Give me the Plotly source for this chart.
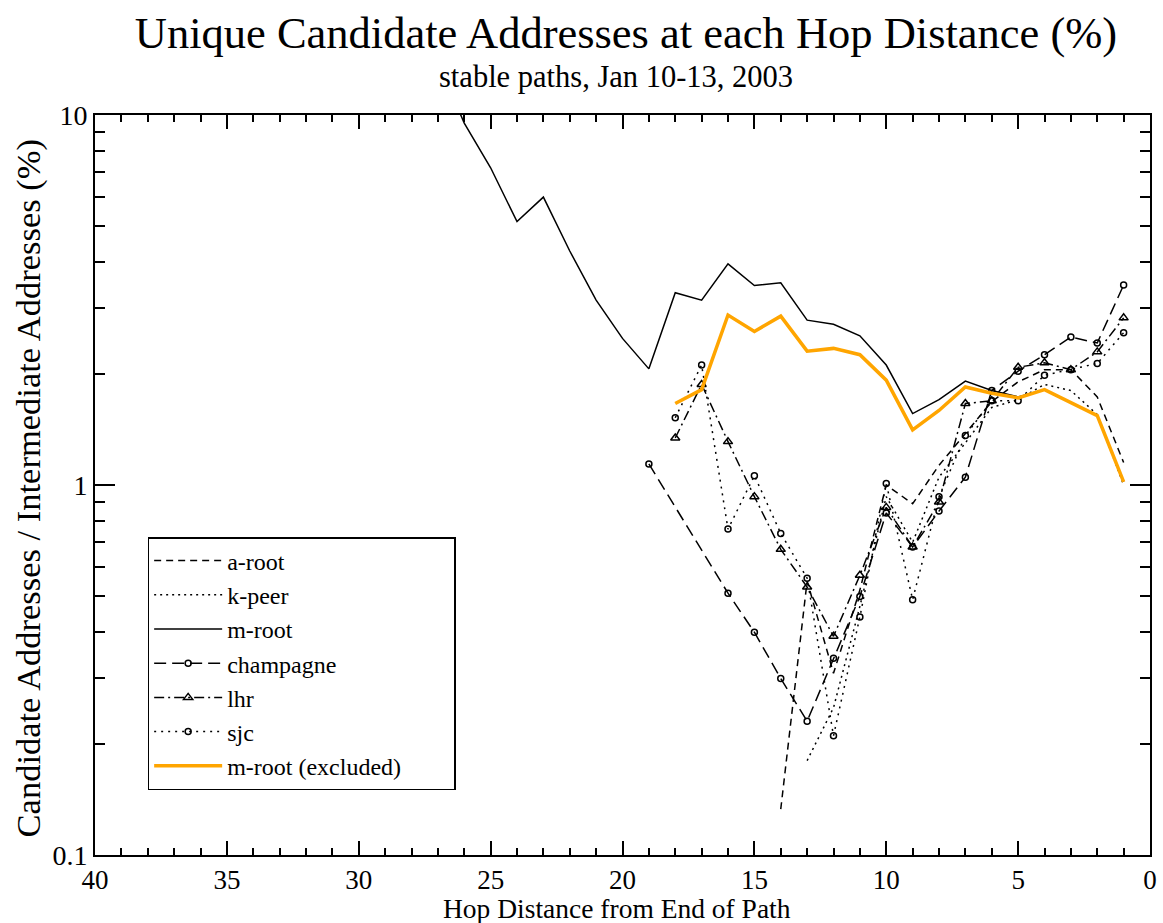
import plotly.graph_objects as go

# ---------------- data ----------------
a_root_hops = [14, 13, 12, 11, 10, 9, 8, 7, 6, 5, 4, 3, 2, 1]
a_root = [0.133, 0.55, 0.31, 0.52, 1.00, 0.89, 1.13, 1.38, 1.68, 1.90, 2.05, 2.05, 1.73, 1.15]

k_peer_hops = [13, 12, 11, 10, 9, 8, 7, 6, 5, 4, 3, 2, 1]
k_peer = [0.18, 0.25, 0.47, 0.93, 0.70, 1.05, 1.30, 1.62, 1.70, 1.87, 1.80, 1.55, 1.00]

m_root_hops = [27, 26, 25, 24, 23, 22, 21, 20, 19, 18, 17, 16, 15, 14, 13, 12, 11, 10,
               9, 8, 7, 6, 5, 4, 3, 2, 1]
m_root = [14.0, 9.5, 7.2, 5.15, 6.0, 4.29, 3.16, 2.49, 2.06, 3.31, 3.16, 3.96, 3.46, 3.52,
          2.79, 2.72, 2.53, 2.11, 1.56, 1.70, 1.91, 1.80, 1.73, 1.81, 1.67, 1.54, 1.02]

champagne_hops = [19, 16, 15, 14, 13, 12, 11, 10, 9, 8, 7, 6, 5, 4, 3, 2, 1]
champagne = [1.14, 0.51, 0.40, 0.30, 0.23, 0.34, 0.50, 0.84, 0.68, 0.85, 1.05, 1.80,
             2.03, 2.25, 2.51, 2.42, 3.47]

lhr_hops = [18, 17, 16, 15, 14, 13, 12, 11, 10, 9, 8, 7, 6, 5, 4, 3, 2, 1]
lhr = [1.34, 1.87, 1.31, 0.93, 0.67, 0.53, 0.39, 0.57, 0.87, 0.68, 0.90, 1.66, 1.69,
       2.08, 2.14, 2.05, 2.29, 2.83]

sjc_hops = [18, 17, 16, 15, 14, 13, 12, 11, 10, 9, 8, 7, 6, 5, 4, 3, 2, 1]
sjc = [1.52, 2.11, 0.76, 1.06, 0.74, 0.56, 0.21, 0.44, 1.01, 0.49, 0.93, 1.36, 1.69,
       1.69, 1.98, 2.05, 2.13, 2.58]

m_root_excl_hops = [18, 17, 16, 15, 14, 13, 12, 11, 10, 9, 8, 7, 6, 5, 4, 3, 2, 1]
m_root_excl = [1.66, 1.81, 2.88, 2.60, 2.86, 2.30, 2.34, 2.25, 1.92, 1.41, 1.59, 1.84,
               1.77, 1.72, 1.81, 1.67, 1.54, 1.02]

y_tick_vals = [0.1, 1, 10]
y_tick_text = ["0.1", "1", "10"]
y_minor_vals = [0.2, 0.3, 0.4, 0.5, 0.6, 0.7, 0.8, 0.9, 2, 3, 4, 5, 6, 7, 8, 9]

FONT = "Liberation Serif"
PAD = "\u00a0" * 8  # right padding inside the legend box

fig = go.Figure()

fig.add_trace(go.Scatter(x=a_root_hops, y=a_root, name="a-root", mode="lines",
                         line=dict(color="black", width=1.5, dash="7px,5px")))
fig.add_trace(go.Scatter(x=k_peer_hops, y=k_peer, name="k-peer", mode="lines",
                         line=dict(color="black", width=1.5, dash="2px,4px")))
fig.add_trace(go.Scatter(x=m_root_hops, y=m_root, name="m-root", mode="lines",
                         line=dict(color="black", width=1.5)))
fig.add_trace(go.Scatter(x=champagne_hops, y=champagne, name="champagne", mode="lines+markers",
                         line=dict(color="black", width=1.5, dash="12px,6px"),
                         marker=dict(symbol="circle-open", size=6, color="black",
                                     line=dict(width=1.5, color="black"))))
fig.add_trace(go.Scatter(x=lhr_hops, y=lhr, name="lhr", mode="lines+markers",
                         line=dict(color="black", width=1.5, dash="10px,4px,2px,4px"),
                         marker=dict(symbol="triangle-up-open", size=8, color="black",
                                     line=dict(width=1.5, color="black"))))
fig.add_trace(go.Scatter(x=sjc_hops, y=sjc, name="sjc", mode="lines+markers",
                         line=dict(color="black", width=1.5, dash="2px,5px"),
                         marker=dict(symbol="circle-open", size=6, color="black",
                                     line=dict(width=1.5, color="black"))))
fig.add_trace(go.Scatter(x=m_root_excl_hops, y=m_root_excl, name="m-root (excluded)" + PAD,
                         mode="lines", line=dict(color="#FFA500", width=3.5)))

fig.update_layout(
    width=1163, height=923,
    margin=dict(l=95, r=6, t=115, b=68),
    paper_bgcolor="white", plot_bgcolor="white",
    font=dict(family=FONT, color="black", size=26),
    title=dict(text="Unique Candidate Addresses at each Hop Distance (%)",
               font=dict(family=FONT, size=44.5, color="black"),
               x=626 / 1163, xanchor="center", y=1 - 32 / 923, yanchor="middle"),
    showlegend=True,
    legend=dict(x=(148 - 95) / 1062, y=(855 - 537) / 740, xanchor="left", yanchor="top",
                bgcolor="white", bordercolor="black", borderwidth=1.5,
                font=dict(family=FONT, size=24, color="black"),
                itemwidth=68, tracegroupgap=0),
    annotations=[
        dict(text="stable paths, Jan 10-13, 2003", xref="paper", yref="paper",
             x=(619 - 95) / 1062, y=(855 - 77) / 740, xanchor="center", yanchor="middle",
             showarrow=False, font=dict(family=FONT, size=30.5, color="black")),
        dict(text="Candidate Addresses / Intermediate Addresses (%)", xref="paper", yref="paper",
             x=(28 - 95) / 1062, y=(855 - 488) / 740, xanchor="center", yanchor="middle",
             textangle=-90, showarrow=False, font=dict(family=FONT, size=34.5, color="black")),
        dict(text="Hop Distance from End of Path", xref="paper", yref="paper",
             x=(620 - 95) / 1062, y=(855 - 908) / 740, xanchor="center", yanchor="middle",
             showarrow=False, font=dict(family=FONT, size=27.5, color="black")),
    ],
)

fig.update_xaxes(
    range=[40, 0], tickmode="linear", tick0=0, dtick=5,
    ticks="inside", ticklen=14, tickwidth=1.5, tickcolor="black",
    minor=dict(dtick=1, tick0=0, ticks="inside", ticklen=7, tickwidth=1.5, tickcolor="black"),
    showline=True, linecolor="black", linewidth=2, mirror="ticks",
    showgrid=False, zeroline=False,
    tickfont=dict(family=FONT, size=27, color="black"),
)
fig.update_yaxes(
    type="log", range=[-1, 1], tickmode="array", tickvals=y_tick_vals, ticktext=y_tick_text,
    ticks="inside", ticklen=20, tickwidth=1.5, tickcolor="black",
    minor=dict(tickmode="array", tickvals=y_minor_vals, ticks="inside", ticklen=10,
               tickwidth=1.5, tickcolor="black", showgrid=False),
    showline=True, linecolor="black", linewidth=2, mirror="ticks",
    showgrid=False, zeroline=False,
    tickfont=dict(family=FONT, size=28, color="black"),
)

fig.write_html("out.html", config={"displayModeBar": False},
               post_script="document.body.style.margin='0';document.body.style.overflow='hidden';")
